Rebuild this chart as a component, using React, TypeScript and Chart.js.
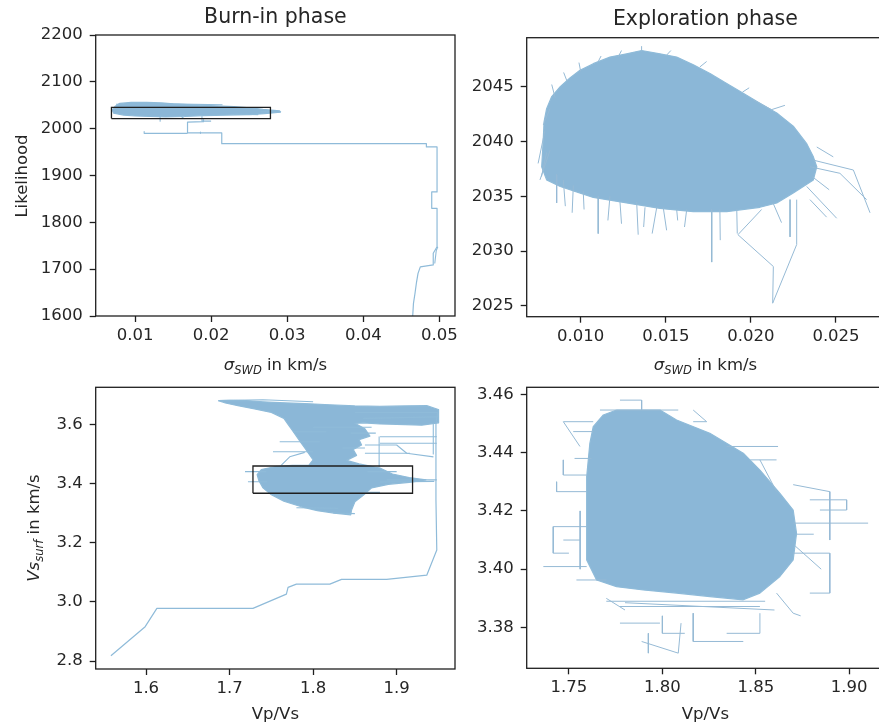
import React, { useEffect, useRef } from "react";
import { Chart, registerables } from "chart.js";
Chart.register(...registerables);

// ---------------- data ----------------
// Burn-in phase, sigma vs likelihood
const burnSigmaTicks = [0.01, 0.02, 0.03, 0.04, 0.05];
const burnSigmaTickLabels = ["0.01", "0.02", "0.03", "0.04", "0.05"];
const burnLikTicks = [1600, 1700, 1800, 1900, 2000, 2100, 2200];
const burnLikTickLabels = ["1600", "1700", "1800", "1900", "2000", "2100", "2200"];
const burnSigmaRange = [0.00483, 0.05206];
const burnLikRange = [1600, 2200];

const burnPathSigma = [0.0465, 0.0466, 0.0468, 0.047, 0.0472, 0.0475, 0.0492, 0.0492, 0.0497, 0.0497, 0.049, 0.049, 0.0497, 0.0497, 0.0483, 0.0483, 0.0214, 0.0214, 0.0169, 0.0169, 0.019, 0.019];
const burnPathLik = [1600, 1627, 1648, 1672, 1691, 1705, 1709, 1734, 1748, 1830, 1830, 1865, 1865, 1961, 1961, 1968, 1968, 1991, 1991, 2014, 2015, 2020];

const burnCloudSigma = [0.007, 0.0074, 0.008, 0.0095, 0.0115, 0.0135, 0.015, 0.0175, 0.02, 0.023, 0.0255, 0.0268, 0.029, 0.0291, 0.027, 0.025, 0.022, 0.019, 0.0165, 0.014, 0.012, 0.01, 0.0085, 0.0072];
const burnCloudLik = [2040, 2048, 2054, 2056, 2056, 2055, 2053, 2051, 2049, 2047, 2044, 2041, 2038, 2035, 2032, 2030, 2029, 2028, 2026, 2025, 2026, 2027, 2029, 2033];

const burnStrays = [
  [[0.0494, 1712], [0.0496, 1740], [0.0498, 1748]],
  [[0.0112, 1994], [0.0112, 1990], [0.0169, 1990]],
  [[0.0186, 1993], [0.0186, 1990]],
  [[0.0133, 2027], [0.0133, 2016]],
  [[0.0188, 2026], [0.0188, 2016], [0.02, 2016]],
  [[0.0075, 2052], [0.014, 2053], [0.0215, 2051]],
  [[0.0265, 2036], [0.0292, 2036]],
  [[0.016, 2027], [0.0165, 2021]],
  [[0.023, 2031], [0.0262, 2030]],
];

const burnBoxSigma = [0.0069, 0.0278];
const burnBoxLik = [2021.5, 2045.5];

// Exploration phase, sigma vs likelihood
const explSigmaTicks = [0.01, 0.015, 0.02, 0.025];
const explSigmaTickLabels = ["0.010", "0.015", "0.020", "0.025"];
const explLikTicks = [2025, 2030, 2035, 2040, 2045];
const explLikTickLabels = ["2025", "2030", "2035", "2040", "2045"];
const explSigmaRange = [0.00683, 0.02782];
const explLikRange = [2024.02, 2049.47];

const explCloudSigma = [0.0078, 0.00785, 0.008, 0.0083, 0.0088, 0.00937, 0.00996, 0.01074, 0.01172, 0.0127, 0.01358, 0.01466, 0.01564, 0.01662, 0.0176, 0.01858, 0.01955, 0.02053, 0.02152, 0.02249, 0.02328, 0.02367, 0.02387, 0.02367, 0.02249, 0.02152, 0.02053, 0.01858, 0.01662, 0.01466, 0.0127, 0.01074, 0.00976, 0.0088, 0.008, 0.00771];
const explCloudLik = [2040.1, 2041.8, 2043.0, 2044.1, 2045.0, 2045.8, 2046.5, 2047.1, 2047.7, 2048.0, 2048.3, 2048.0, 2047.7, 2047.0, 2046.2, 2045.3, 2044.4, 2043.5, 2042.6, 2041.4, 2039.8, 2038.6, 2037.7, 2036.5, 2035.3, 2034.4, 2034.0, 2033.6, 2033.6, 2033.9, 2034.4, 2034.9, 2035.4, 2035.9, 2036.5, 2037.7];

const explStrays = [
  // bottom spikes
  [[0.00859, 2037.0], [0.00859, 2034.4]],
  [[0.00898, 2036.5], [0.0091, 2034.1]],
  [[0.00957, 2036.0], [0.0095, 2033.5]],
  [[0.01015, 2035.5], [0.0102, 2033.8]],
  [[0.01103, 2035.0], [0.01103, 2031.6]],
  [[0.01172, 2035.0], [0.0116, 2032.8]],
  [[0.01231, 2034.5], [0.0124, 2032.5]],
  [[0.01329, 2034.5], [0.01338, 2031.5]],
  [[0.01378, 2034.0], [0.0137, 2032.2]],
  [[0.01447, 2034.0], [0.0142, 2031.6]],
  [[0.01485, 2034.0], [0.01505, 2031.9]],
  [[0.01564, 2033.8], [0.0157, 2032.8]],
  [[0.01623, 2033.8], [0.0161, 2032.2]],
  [[0.0177, 2033.8], [0.0177, 2029.0]],
  [[0.01818, 2033.8], [0.0182, 2031.0]],
  [[0.01917, 2033.8], [0.0192, 2031.6]],
  [[0.0213, 2034.4], [0.0218, 2032.6]],
  [[0.02063, 2033.8], [0.01924, 2031.5], [0.02132, 2028.6], [0.02128, 2025.25], [0.02269, 2030.6], [0.02269, 2034.7]],
  [[0.0223, 2034.7], [0.0223, 2031.3]],
  // right tail
  [[0.02367, 2038.3], [0.02602, 2037.4], [0.027, 2033.5]],
  [[0.02347, 2037.7], [0.02523, 2037.1], [0.0268, 2034.7]],
  [[0.02328, 2035.9], [0.02504, 2033.0]],
  [[0.02347, 2034.7], [0.02445, 2033.1]],
  [[0.02387, 2039.5], [0.02484, 2038.6]],
  [[0.0236, 2036.8], [0.0246, 2035.6]],
  // left and top fringe
  [[0.00761, 2036.5], [0.0082, 2039.2]],
  [[0.0079, 2041.0], [0.0075, 2038.0]],
  [[0.008, 2039.0], [0.0077, 2036.8]],
  [[0.0082, 2043.0], [0.0078, 2041.5]],
  [[0.0085, 2044.0], [0.0083, 2045.2]],
  [[0.0092, 2045.5], [0.009, 2046.3]],
  [[0.01, 2046.4], [0.0099, 2047.2]],
  [[0.011, 2047.2], [0.0112, 2047.8]],
  [[0.0122, 2047.7], [0.0124, 2048.3]],
  [[0.01358, 2048.2], [0.01358, 2048.7]],
  [[0.015, 2047.8], [0.0153, 2048.3]],
  [[0.017, 2046.8], [0.0174, 2047.3]],
  [[0.0195, 2044.5], [0.0199, 2044.9]],
  [[0.02014, 2043.8], [0.02122, 2042.9]],
  [[0.0212, 2042.9], [0.022, 2043.3]],
];

// Burn-in phase, Vp/Vs vs Vs
const vsBurnRatioTicks = [1.6, 1.7, 1.8, 1.9];
const vsBurnRatioTickLabels = ["1.6", "1.7", "1.8", "1.9"];
const vsBurnVsTicks = [2.8, 3.0, 3.2, 3.4, 3.6];
const vsBurnVsTickLabels = ["2.8", "3.0", "3.2", "3.4", "3.6"];
const vsBurnRatioRange = [1.5398, 1.9698];
const vsBurnVsRange = [2.773, 3.725];

const vsPathRatio = [1.558, 1.599, 1.613, 1.728, 1.768, 1.77, 1.78, 1.82, 1.834, 1.888, 1.936, 1.948, 1.947, 1.947, 1.949];
const vsPathVs = [2.818, 2.916, 2.978, 2.978, 3.026, 3.049, 3.06, 3.06, 3.076, 3.076, 3.09, 3.175, 3.344, 3.6, 3.64];

const vsCloudRatio = [1.6866, 1.7, 1.72, 1.74, 1.76, 1.79, 1.82, 1.85, 1.88, 1.91, 1.936, 1.9498, 1.9505, 1.9498, 1.93, 1.9, 1.88, 1.86, 1.85, 1.862, 1.868, 1.855, 1.858, 1.848, 1.852, 1.84, 1.855, 1.88, 1.895, 1.915, 1.935, 1.915, 1.89, 1.87, 1.86, 1.85, 1.846, 1.845, 1.825, 1.805, 1.785, 1.765, 1.75, 1.74, 1.735, 1.733, 1.738, 1.755, 1.775, 1.795, 1.8, 1.795, 1.79, 1.785, 1.78, 1.775, 1.77, 1.765, 1.75, 1.73, 1.71, 1.695];
const vsCloudVs = [3.68, 3.681, 3.68, 3.676, 3.673, 3.67, 3.666, 3.662, 3.661, 3.662, 3.663, 3.65, 3.62, 3.605, 3.597, 3.6, 3.601, 3.605, 3.603, 3.585, 3.56, 3.548, 3.53, 3.515, 3.495, 3.478, 3.466, 3.452, 3.432, 3.42, 3.412, 3.404, 3.397, 3.385, 3.36, 3.338, 3.31, 3.294, 3.3, 3.308, 3.322, 3.34, 3.362, 3.385, 3.41, 3.43, 3.447, 3.457, 3.461, 3.462, 3.48, 3.5, 3.52, 3.54, 3.56, 3.58, 3.6, 3.62, 3.64, 3.652, 3.663, 3.672];

const vsBurnStrays = [
  [[1.6866, 3.68], [1.74, 3.683], [1.8, 3.676]],
  [[1.85, 3.64], [1.95, 3.64]],
  [[1.86, 3.62], [1.95, 3.625]],
  [[1.88, 3.558], [1.948, 3.558]],
  [[1.88, 3.536], [1.948, 3.536]],
  [[1.879, 3.558], [1.879, 3.457]],
  [[1.862, 3.53], [1.9, 3.53], [1.912, 3.502], [1.944, 3.49]],
  [[1.9438, 3.6], [1.9438, 3.5]],
  [[1.862, 3.502], [1.916, 3.502]],
  [[1.888, 3.412], [1.948, 3.412]],
  [[1.88, 3.405], [1.945, 3.407]],
  [[1.7185, 3.44], [1.744, 3.44]],
  [[1.722, 3.406], [1.745, 3.406]],
  [[1.752, 3.507], [1.8, 3.507]],
  [[1.76, 3.541], [1.808, 3.541]],
  [[1.776, 3.575], [1.816, 3.575]],
  [[1.835, 3.52], [1.862, 3.52]],
  [[1.79, 3.505], [1.772, 3.49], [1.762, 3.462]],
  [[1.824, 3.3], [1.85, 3.298]],
  [[1.78, 3.318], [1.83, 3.316]],
  [[1.8, 3.59], [1.87, 3.59]],
  [[1.845, 3.57], [1.875, 3.57]],
  [[1.865, 3.44], [1.9, 3.44]],
  [[1.86, 3.37], [1.88, 3.37]],
];

const vsBoxRatio = [1.728, 1.919];
const vsBoxVs = [3.367, 3.459];

// Exploration phase, Vp/Vs vs Vs
const vsExplRatioTicks = [1.75, 1.8, 1.85, 1.9];
const vsExplRatioTickLabels = ["1.75", "1.80", "1.85", "1.90"];
const vsExplVsTicks = [3.38, 3.4, 3.42, 3.44, 3.46];
const vsExplVsTickLabels = ["3.38", "3.40", "3.42", "3.44", "3.46"];
const vsExplRatioRange = [1.7274, 1.9186];
const vsExplVsRange = [3.366, 3.4624];

const vsExplCloudRatio = [1.7755, 1.7987, 1.8076, 1.8254, 1.8433, 1.8522, 1.8629, 1.87, 1.8718, 1.87, 1.8629, 1.8522, 1.8433, 1.8254, 1.8076, 1.7898, 1.7755, 1.7648, 1.7595, 1.7595, 1.7595, 1.7612, 1.763, 1.7684];
const vsExplCloudVs = [3.4546, 3.4546, 3.4512, 3.4466, 3.4398, 3.434, 3.426, 3.4203, 3.4123, 3.4032, 3.3975, 3.3918, 3.3895, 3.3906, 3.3918, 3.3929, 3.394, 3.3963, 3.4032, 3.4146, 3.4317, 3.4432, 3.4489, 3.4529];

const vsExplStrays = [
  [[1.7773, 3.458], [1.7889, 3.458], [1.7889, 3.4546]],
  [[1.7666, 3.4546], [1.8085, 3.4546]],
  [[1.7559, 3.4421], [1.747, 3.4506], [1.763, 3.4506]],
  [[1.7523, 3.4472], [1.763, 3.4472]],
  [[1.747, 3.4375], [1.747, 3.4323], [1.7595, 3.4323]],
  [[1.7434, 3.43], [1.7434, 3.4266], [1.7595, 3.4266]],
  [[1.7416, 3.4146], [1.7595, 3.4146]],
  [[1.7416, 3.4146], [1.7416, 3.4055], [1.75, 3.4055]],
  [[1.7363, 3.4009], [1.7595, 3.4009]],
  [[1.747, 3.41], [1.756, 3.41]],
  [[1.754, 3.3963], [1.77, 3.3963]],
  [[1.756, 3.42], [1.756, 3.4]],
  [[1.753, 3.438], [1.762, 3.438]],
  [[1.87, 3.4158], [1.9101, 3.4158]],
  [[1.8789, 3.4238], [1.8986, 3.4238], [1.8986, 3.4203], [1.8843, 3.4203]],
  [[1.87, 3.429], [1.8896, 3.4266], [1.8896, 3.41]],
  [[1.8522, 3.4375], [1.8611, 3.4266]],
  [[1.87, 3.4055], [1.8896, 3.4055], [1.8896, 3.3918], [1.8789, 3.3918]],
  [[1.8611, 3.3918], [1.87, 3.3849], [1.874, 3.384]],
  [[1.872, 3.412], [1.881, 3.412]],
  [[1.871, 3.408], [1.885, 3.4]],
  [[1.7773, 3.3872], [1.8522, 3.3872]],
  [[1.77, 3.389], [1.855, 3.389]],
  [[1.78, 3.3885], [1.86, 3.386]],
  [[1.7889, 3.3752], [1.8085, 3.3712], [1.81, 3.3815]],
  [[1.7925, 3.378], [1.7925, 3.3712]],
  [[1.8165, 3.3849], [1.8165, 3.3752], [1.8433, 3.3752]],
  [[1.8344, 3.378], [1.8522, 3.378], [1.8522, 3.3849]],
  [[1.7773, 3.3815], [1.7987, 3.3815]],
  [[1.8, 3.384], [1.8, 3.378], [1.812, 3.378]],
  [[1.8165, 3.4546], [1.8237, 3.4506], [1.8165, 3.4506]],
  [[1.8344, 3.4421], [1.8619, 3.4421]],
  [[1.847, 3.4375], [1.8611, 3.4375]],
  [[1.77, 3.39], [1.78, 3.386]],
];

// ---------------- styling ----------------
const FONT = '"DejaVu Sans", sans-serif';
const TEXT = "#262626";
const FRAME = "#1f1f1f";
const CLOUD = "rgb(139,183,215)";
const LINE = "rgb(143,187,217)";
const STRAY = "rgb(150,186,213)";
const CW = 900;
const CH = 726;
const Y_W = 60;
const X_H = 40;
const TICK_SIZE = 16.5;
const LABEL_SIZE = 16.5;
const TITLE_SIZE = 20.5;

type Seg = { text: string; italic?: boolean; sub?: boolean };
const sigmaLabel: Seg[] = [
  { text: "σ", italic: true },
  { text: "SWD", italic: true, sub: true },
  { text: " in km/s" },
];
const vsLabel: Seg[] = [
  { text: "Vs", italic: true },
  { text: "surf", italic: true, sub: true },
  { text: " in km/s" },
];

function drawRich(ctx: CanvasRenderingContext2D, segs: Seg[], cx: number, cy: number, rotate: boolean, size: number) {
  ctx.save();
  ctx.translate(cx, cy);
  if (rotate) ctx.rotate(-Math.PI / 2);
  const fontFor = (s: Seg) => `${s.italic ? "italic " : ""}${s.sub ? size * 0.7 : size}px ${FONT}`;
  let total = 0;
  const widths = segs.map((s) => {
    ctx.font = fontFor(s);
    const w = ctx.measureText(s.text).width;
    total += w;
    return w;
  });
  let x = -total / 2;
  ctx.fillStyle = TEXT;
  ctx.textAlign = "left";
  ctx.textBaseline = "alphabetic";
  segs.forEach((s, i) => {
    ctx.font = fontFor(s);
    ctx.fillText(s.text, x, s.sub ? size * 0.22 : 0);
    x += widths[i];
  });
  ctx.restore();
}

const zip = (xs: number[], ys: number[]) => xs.map((x, i) => ({ x, y: ys[i] }));
const pairs = (pts: number[][]) => pts.map(([x, y]) => ({ x, y }));

function lineDs(points: { x: number; y: number }[], color: string, width: number, extra: any = {}) {
  return {
    data: points,
    showLine: true,
    borderColor: color,
    backgroundColor: color,
    borderWidth: width,
    pointRadius: 0,
    pointHoverRadius: 0,
    fill: false,
    tension: 0,
    borderJoinStyle: "round",
    ...extra,
  };
}

function cloudDs(xs: number[], ys: number[]) {
  const pts = zip(xs, ys);
  return lineDs([...pts, pts[0]], LINE, 1.2, { polyFill: CLOUD });
}

function boxDs(bx: number[], by: number[]) {
  return lineDs(
    [
      { x: bx[0], y: by[0] },
      { x: bx[1], y: by[0] },
      { x: bx[1], y: by[1] },
      { x: bx[0], y: by[1] },
      { x: bx[0], y: by[0] },
    ],
    FRAME,
    1.3,
    { borderJoinStyle: "miter" }
  );
}

function axis(horizontal: boolean, range: number[], ticks: number[], labels: string[]) {
  return {
    type: "linear",
    min: range[0],
    max: range[1],
    afterBuildTicks: (s: any) => {
      s.ticks = ticks.map((v) => ({ value: v }));
    },
    afterFit: (s: any) => {
      if (horizontal) s.height = X_H;
      else s.width = Y_W;
    },
    ticks: {
      callback: (_v: any, i: number) => labels[i],
      font: { family: FONT, size: TICK_SIZE },
      color: TEXT,
      padding: horizontal ? 4 : 7,
      maxRotation: 0,
      minRotation: 0,
      autoSkip: false,
    },
    grid: {
      display: true,
      drawOnChartArea: false,
      drawTicks: true,
      tickLength: 6,
      tickWidth: 1.3,
      tickColor: FRAME,
    },
    border: { display: false },
  };
}

const polyFillPlugin = {
  id: "polyFill",
  beforeDatasetsDraw(chart: any) {
    const { ctx, chartArea: a } = chart;
    chart.data.datasets.forEach((ds: any, i: number) => {
      if (!ds.polyFill) return;
      const pts = chart.getDatasetMeta(i).data;
      if (!pts.length) return;
      ctx.save();
      ctx.beginPath();
      ctx.rect(a.left, a.top, a.right - a.left, a.bottom - a.top);
      ctx.clip();
      ctx.beginPath();
      pts.forEach((p: any, k: number) => (k ? ctx.lineTo(p.x, p.y) : ctx.moveTo(p.x, p.y)));
      ctx.closePath();
      ctx.fillStyle = ds.polyFill;
      ctx.fill();
      ctx.restore();
    });
  },
};

type Panel = {
  area: { left: number; right: number; top: number; bottom: number };
  x: any;
  y: any;
  datasets: any[];
  draw: (ctx: CanvasRenderingContext2D) => void;
};

function drawTitle(ctx: CanvasRenderingContext2D, text: string, cx: number, by: number) {
  ctx.save();
  ctx.font = `${TITLE_SIZE}px ${FONT}`;
  ctx.fillStyle = TEXT;
  ctx.textAlign = "center";
  ctx.textBaseline = "alphabetic";
  ctx.fillText(text, cx, by);
  ctx.restore();
}

const PANELS: Panel[] = [
  {
    area: { left: 95.7, right: 455, top: 35, bottom: 316 },
    x: axis(true, burnSigmaRange, burnSigmaTicks, burnSigmaTickLabels),
    y: axis(false, burnLikRange, burnLikTicks, burnLikTickLabels),
    datasets: [
      boxDs(burnBoxSigma, burnBoxLik),
      ...burnStrays.map((s) => lineDs(pairs(s), LINE, 1.1)),
      lineDs(zip(burnPathSigma, burnPathLik), LINE, 1.2),
      cloudDs(burnCloudSigma, burnCloudLik),
    ],
    draw: (ctx) => {
      drawTitle(ctx, "Burn-in phase", 275.4, 23);
      drawRich(ctx, sigmaLabel, 275.4, 370, false, LABEL_SIZE);
      drawRich(ctx, [{ text: "Likelihood" }], 27, 176, true, LABEL_SIZE);
    },
  },
  {
    area: { left: 526.7, right: 884, top: 37.7, bottom: 316.7 },
    x: axis(true, explSigmaRange, explSigmaTicks, explSigmaTickLabels),
    y: axis(false, explLikRange, explLikTicks, explLikTickLabels),
    datasets: [
      ...explStrays.map((s) => lineDs(pairs(s), STRAY, 1)),
      cloudDs(explCloudSigma, explCloudLik),
    ],
    draw: (ctx) => {
      drawTitle(ctx, "Exploration phase", 705.4, 24.5);
      drawRich(ctx, sigmaLabel, 705.4, 370, false, LABEL_SIZE);
    },
  },
  {
    area: { left: 95.7, right: 455, top: 387.3, bottom: 669 },
    x: axis(true, vsBurnRatioRange, vsBurnRatioTicks, vsBurnRatioTickLabels),
    y: axis(false, vsBurnVsRange, vsBurnVsTicks, vsBurnVsTickLabels),
    datasets: [
      boxDs(vsBoxRatio, vsBoxVs),
      ...vsBurnStrays.map((s) => lineDs(pairs(s), LINE, 1.1)),
      lineDs(zip(vsPathRatio, vsPathVs), LINE, 1.2),
      cloudDs(vsCloudRatio, vsCloudVs),
    ],
    draw: (ctx) => {
      drawRich(ctx, [{ text: "Vp/Vs" }], 275.4, 718.5, false, LABEL_SIZE);
      drawRich(ctx, vsLabel, 39, 528, true, LABEL_SIZE);
    },
  },
  {
    area: { left: 526.7, right: 884, top: 387.3, bottom: 668.3 },
    x: axis(true, vsExplRatioRange, vsExplRatioTicks, vsExplRatioTickLabels),
    y: axis(false, vsExplVsRange, vsExplVsTicks, vsExplVsTickLabels),
    datasets: [
      ...vsExplStrays.map((s) => lineDs(pairs(s), STRAY, 1)),
      cloudDs(vsExplCloudRatio, vsExplCloudVs),
    ],
    draw: (ctx) => {
      drawRich(ctx, [{ text: "Vp/Vs" }], 705.4, 718.5, false, LABEL_SIZE);
    },
  },
];

function buildConfig(p: Panel): any {
  const frameAndLabels = {
    id: "frameAndLabels",
    afterDraw(chart: any) {
      const { ctx, chartArea: a } = chart;
      ctx.save();
      ctx.strokeStyle = FRAME;
      ctx.lineWidth = 1.3;
      ctx.strokeRect(a.left, a.top, a.right - a.left, a.bottom - a.top);
      ctx.restore();
      p.draw(ctx);
    },
  };
  return {
    type: "scatter",
    data: { datasets: p.datasets },
    options: {
      responsive: false,
      animation: false,
      events: [],
      layout: {
        padding: {
          left: p.area.left - Y_W,
          right: CW - p.area.right,
          top: p.area.top,
          bottom: CH - p.area.bottom - X_H,
        },
      },
      plugins: { legend: { display: false }, tooltip: { enabled: false }, title: { display: false } },
      scales: { x: p.x, y: p.y },
    },
    plugins: [polyFillPlugin, frameAndLabels],
  };
}

export default function App() {
  const r0 = useRef<HTMLCanvasElement>(null);
  const r1 = useRef<HTMLCanvasElement>(null);
  const r2 = useRef<HTMLCanvasElement>(null);
  const r3 = useRef<HTMLCanvasElement>(null);
  const refs = [r0, r1, r2, r3];
  useEffect(() => {
    const charts = PANELS.map((p, i) => new Chart(refs[i].current as HTMLCanvasElement, buildConfig(p)));
    return () => charts.forEach((c) => c.destroy());
  }, []);
  return (
    <div style={{ position: "fixed", left: 0, top: 0, width: 879, height: 726, overflow: "hidden", background: "#fff" }}>
      {refs.map((r, i) => (
        <canvas
          key={i}
          ref={r}
          width={CW}
          height={CH}
          style={{ position: "absolute", left: 0, top: 0, width: CW, height: CH }}
        />
      ))}
    </div>
  );
}
